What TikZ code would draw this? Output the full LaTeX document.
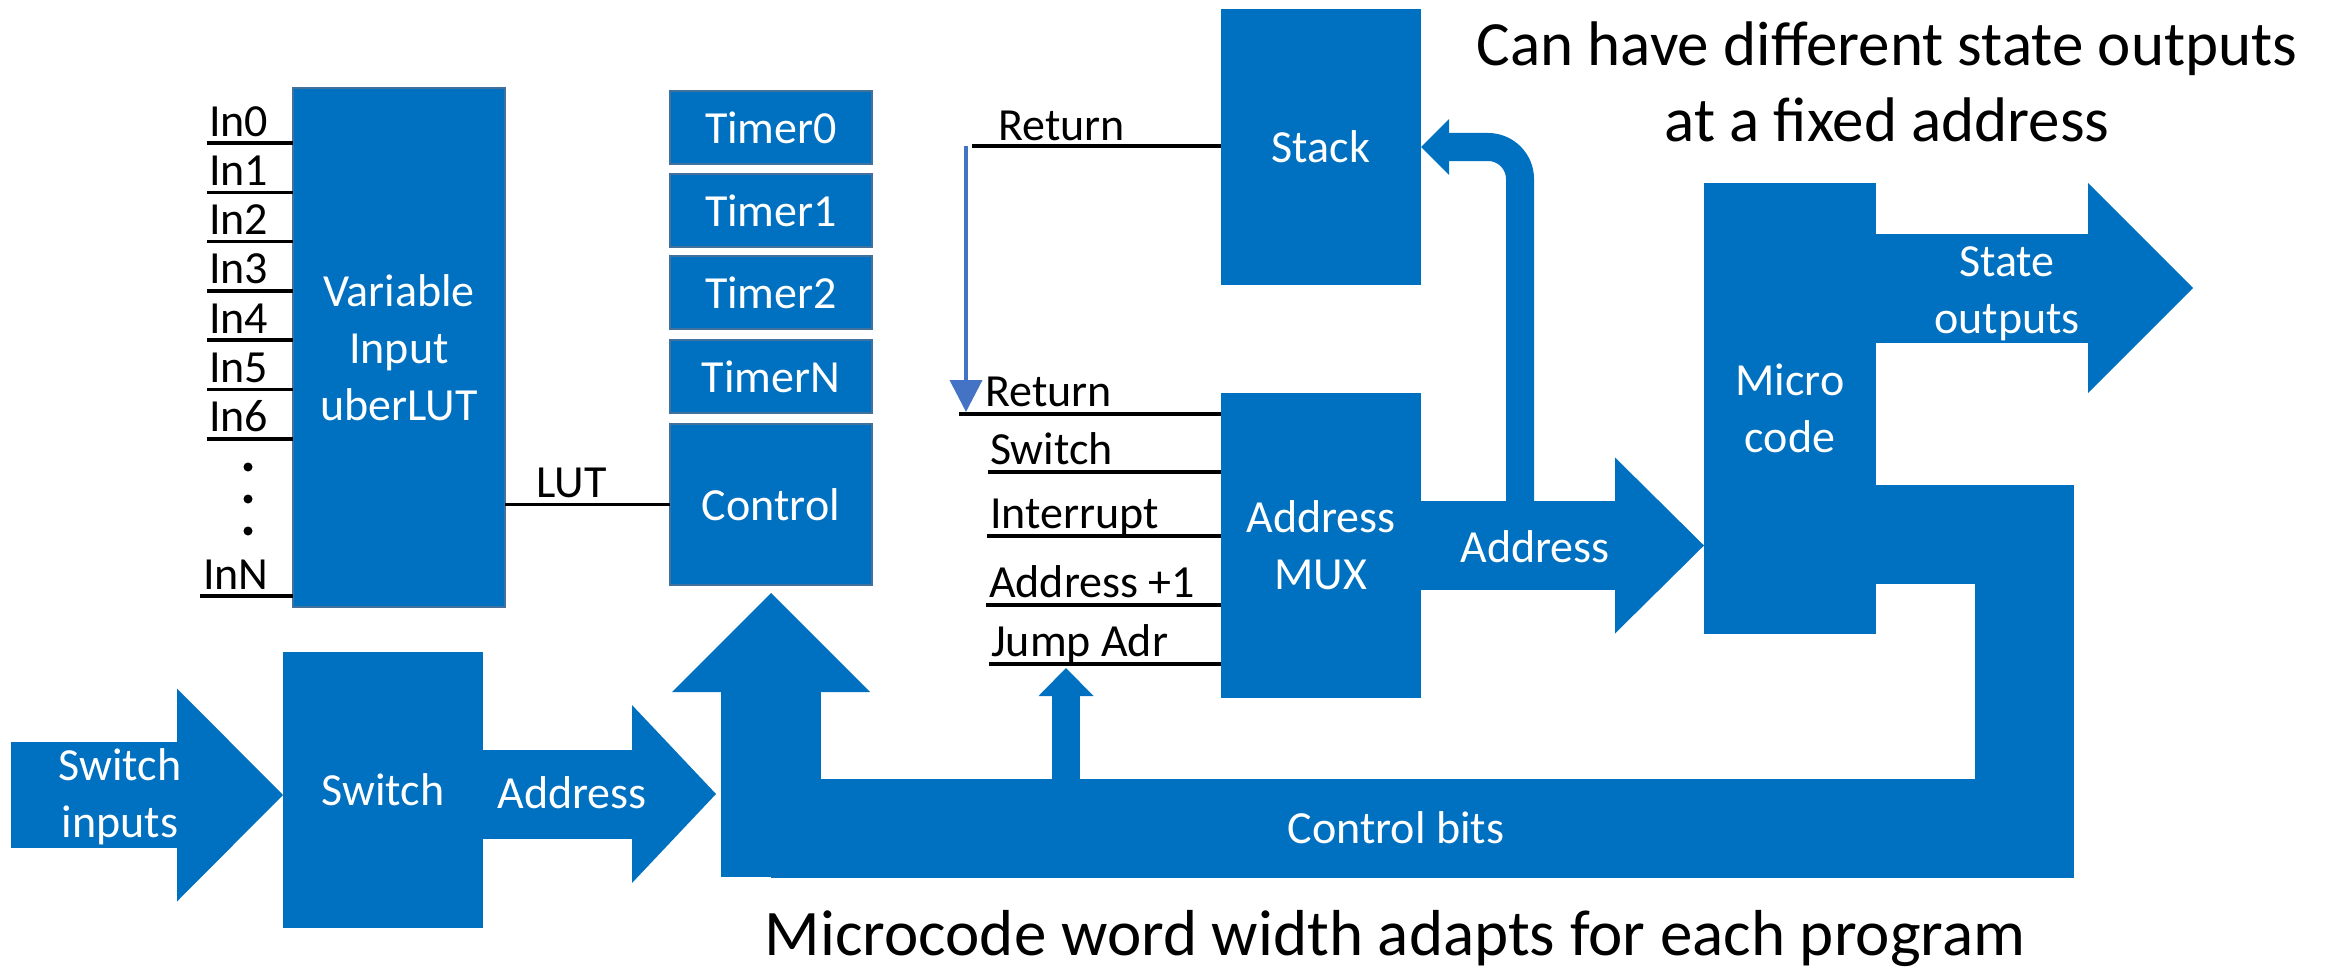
\documentclass[tikz,border=0pt]{standalone}
\usepackage{fontspec}
\setmainfont{Carlito}
\usetikzlibrary{arrows.meta}
\definecolor{boxblue}{HTML}{0070C0}
\definecolor{boxedge}{HTML}{41719C}
\definecolor{retblue}{HTML}{4472C4}

\tikzset{
  blk/.style={fill=boxblue, text=white, align=center, inner sep=0pt, outer sep=0pt, anchor=north west, font=\fontsize{46}{57}\selectfont},
  eblk/.style={blk, draw=boxedge, line width=2pt},
  wire/.style={line width=3.5pt},
  lbl/.style={anchor=base west, inner sep=0pt, font=\fontsize{46}{57}\selectfont},
  wlbl/.style={text=white, align=center, inner sep=0pt, font=\fontsize{46}{57}\selectfont},
  bigarrow/.style n args={3}{draw=boxblue, line width=#1, -{Triangle[length=#2, width=#3, line width=0pt]}},
}

\begin{document}
\begin{tikzpicture}[x=1pt, y=-1pt]
\useasboundingbox (0,0) rectangle (2333,971);

% blocks
\node[eblk, minimum width=212pt, minimum height=519pt] (lut) at (293,88) {Variable\\Input\\uberLUT};
\foreach \nm/\tp [count=\i] in {Timer0/91, Timer1/174, Timer2/256, TimerN/340}
  \node[eblk, minimum width=202pt, minimum height=73pt] (tmr\i) at (670,\tp) {\nm};
\node[eblk, minimum width=202pt, minimum height=161pt] (ctl) at (670,424) {Control};
\node[blk, minimum width=200pt, minimum height=276pt] (stk) at (1221,9) {Stack};
\node[blk, minimum width=200pt, minimum height=305pt] (mux) at (1221,393) {Address\\MUX};
\node[blk, minimum width=172pt, minimum height=451pt] (micro) at (1704,183) {Micro\\code};
\node[blk, minimum width=200pt, minimum height=276pt] (sw) at (283,652) {Switch};

% uberLUT inputs
\foreach \k in {0,...,6} {
  \coordinate (in\k) at (207,{143+49.3*\k});
  \draw[wire] (in\k) -- (in\k -| lut.west);
  \node[lbl] (inl\k) at ([xshift=2pt,yshift=7pt]in\k) {In\k};
}
\coordinate (inN) at (200,596);
\draw[wire] (inN) -- (inN -| lut.west);
\node[lbl] (inlN) at ([xshift=3pt,yshift=7pt]inN) {InN};
\foreach \d in {467,499,531}
  \fill (248,\d) circle (4.5pt);

% LUT to control
\draw[wire] (ctl.west -| lut.east) -- (ctl.west);
\node[lbl] (lutl) at (536,497) {LUT};

% stack return
\coordinate (rtop) at (966,146);
\coordinate (rbot) at (966,412);
\draw[wire] ([xshift=6pt]rtop) -- (rtop -| stk.west);
\node[lbl] (rtl) at (998,140) {Return};
\draw[retblue, line width=4pt, -{Triangle[length=32pt, width=32pt]}] (rtop) -- (rbot);

% mux inputs
\foreach \nm/\yy/\ls/\tx [count=\i] in {Return/414/959/985, Switch/472/988/990, Interrupt/536/987/990, Address +1/605/986/989, Jump Adr/664/989/991}
{
  \coordinate (mx\i) at (\ls,\yy);
  \draw[wire] (mx\i) -- (mx\i -| mux.west);
  \node[lbl] (mxl\i) at (\tx,\yy-8) {\nm};
}

% control bits bus
\coordinate (cbit) at (2024,534);
\coordinate (busbot) at (0,877);
\coordinate (busmid) at (0,828);
\draw[draw=boxblue, line width=99pt] (cbit -| micro.east) -- (cbit) |- (ctl.south |- busmid);
\draw[bigarrow={100pt}{99pt}{198pt}] (ctl.south |- busbot) -- ([yshift=-8pt]ctl.south);
\coordinate (jtip) at (1066,668);
\draw[bigarrow={28pt}{28pt}{55pt}] (jtip |- busmid) -- (jtip);
\node[wlbl, anchor=base] (cbl) at (1396,843) {Control bits};

% switch path
\coordinate (swin) at (11,795);
\draw[bigarrow={106pt}{106pt}{213pt}] (swin) -- (swin -| sw.west);
\node[wlbl] (swinl) at (120,797) {Switch\\inputs};
\coordinate (swout) at (716,794);
\draw[bigarrow={89pt}{84pt}{178pt}] (swout -| sw.east) -- (swout);
\node[wlbl, anchor=base] (swal) at (572,808) {Address};

% address to microcode and stack
\draw[bigarrow={89pt}{89pt}{176pt}] (mux.east) -- (mux.east -| micro.west);
\coordinate (bend) at (1520,504);
\draw[bigarrow={28pt}{28pt}{56pt}, rounded corners=32pt] (bend) |- (stk.east);
\node[wlbl, anchor=base] (madl) at (1535,562) {Address};

% state outputs
\coordinate (stout) at (2193,288);
\draw[bigarrow={109pt}{105pt}{210pt}] (stout -| micro.east) -- (stout);
\node[wlbl] (stl) at (2007,294) {State\\outputs};

% notes
\node[anchor=base, inner sep=0pt, font=\fontsize{63}{75}\selectfont] (note1) at (1887,66) {Can have different state outputs};
\node[anchor=base, inner sep=0pt, font=\fontsize{63}{75}\selectfont] (note2) at (1887,141) {at a fixed address};
\node[anchor=base, inner sep=0pt, font=\fontsize{65}{78}\selectfont] (foot) at (1395,955) {Microcode word width adapts for each program};
\end{tikzpicture}
\end{document}
